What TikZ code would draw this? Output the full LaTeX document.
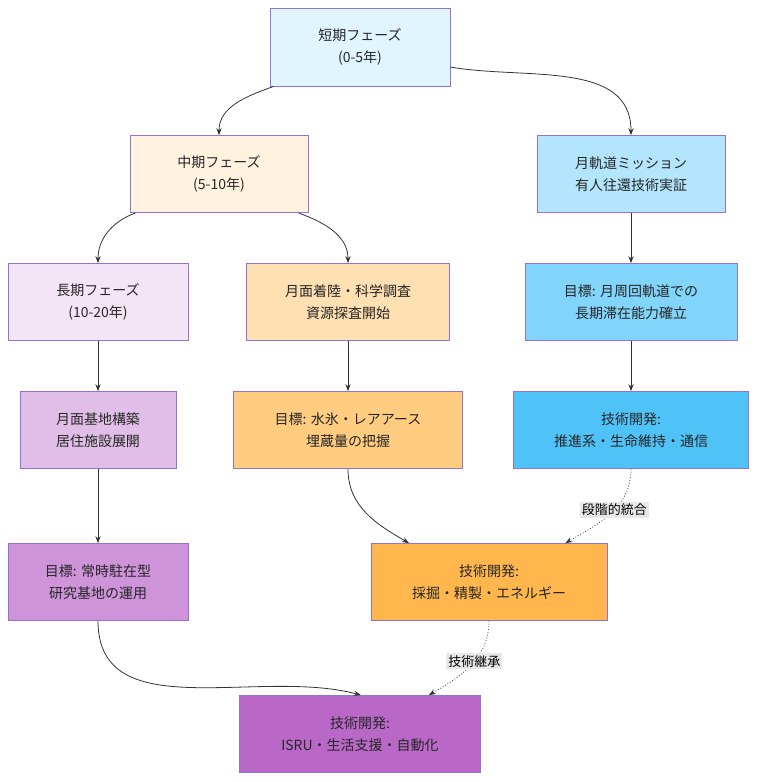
\documentclass[tikz,border=0pt]{standalone}
\usepackage{fontspec}
\setmainfont{Noto Sans CJK JP}
\usetikzlibrary{arrows.meta}
\definecolor{cShort}{HTML}{E1F5FE}
\definecolor{cMid}{HTML}{FFF3E0}
\definecolor{cLong}{HTML}{F3E5F5}
\definecolor{cOrbit}{HTML}{B3E5FC}
\definecolor{cOrbGoal}{HTML}{81D4FA}
\definecolor{cOrbTech}{HTML}{4FC3F7}
\definecolor{cLand}{HTML}{FFE0B2}
\definecolor{cWater}{HTML}{FFCC80}
\definecolor{cMine}{HTML}{FFB74D}
\definecolor{cBase}{HTML}{E1BEE7}
\definecolor{cBaseGoal}{HTML}{CE93D8}
\definecolor{cFinal}{HTML}{BA68C8}
\definecolor{cBorder}{HTML}{9370DB}
\definecolor{cEdge}{HTML}{333333}
\definecolor{cLabel}{HTML}{E8E8E8}
\tikzset{
  box/.style={draw=cBorder,line width=0.8pt,align=center,inner sep=0pt,
    font=\fontsize{14}{22}\selectfont,text=black!85},
  link/.style={draw=cEdge,line width=0.8pt,-{Stealth[length=7pt]}},
  dotlink/.style={link,dotted},
  tag/.style={fill=cLabel,font=\fontsize{13}{16}\selectfont,inner sep=2pt}
}
\begin{document}
\begin{tikzpicture}[x=1pt,y=-1pt]
  \useasboundingbox (0,0) rectangle (757,782);

  % phases
  \node[box,fill=cShort,minimum width=180pt,minimum height=78pt] (short) at (360,47) {短期フェーズ\\(0-5年)};
  \node[box,fill=cMid,minimum width=178pt,minimum height=77pt] (mid) at (219,174) {中期フェーズ\\(5-10年)};
  \node[box,fill=cLong,minimum width=180pt,minimum height=77pt] (long) at (98,302) {長期フェーズ\\(10-20年)};

  % short term
  \node[box,fill=cOrbit,minimum width=188pt,minimum height=77pt] (orbit) at (631,174) {月軌道ミッション\\有人往還技術実証};
  \node[box,fill=cOrbGoal,minimum width=212pt,minimum height=77pt] (orbgoal) at (631,302) {目標: 月周回軌道での\\長期滞在能力確立};
  \node[box,fill=cOrbTech,minimum width=235pt,minimum height=77pt] (orbtech) at (631,430) {技術開発:\\推進系・生命維持・通信};

  % mid term
  \node[box,fill=cLand,minimum width=203pt,minimum height=77pt] (land) at (348,302) {月面着陸・科学調査\\資源探査開始};
  \node[box,fill=cWater,minimum width=229pt,minimum height=77pt] (water) at (348,430) {目標: 水氷・レアアース\\埋蔵量の把握};
  \node[box,fill=cMine,minimum width=236pt,minimum height=77pt] (mine) at (489,582) {技術開発:\\採掘・精製・エネルギー};

  % long term
  \node[box,fill=cBase,minimum width=156pt,minimum height=77pt] (base) at (98,430) {月面基地構築\\居住施設展開};
  \node[box,fill=cBaseGoal,minimum width=180pt,minimum height=77pt] (basegoal) at (98,582) {目標: 常時駐在型\\研究基地の運用};
  \node[box,fill=cFinal,minimum width=241pt,minimum height=77pt] (final) at (360,734) {技術開発:\\ISRU・生活支援・自動化};

  % links
  \draw[link] (short.south west) ++(4,0) to[out=-160,in=90] (mid.north);
  \draw[link] (short.east) ++(0,20) to[out=-10,in=90] (orbit.north);
  \draw[link] (mid.south west) ++(6,0) to[out=-160,in=90] (long.north);
  \draw[link] (mid.south east) ++(-10,0) to[out=-20,in=90] (land.north);
  \draw[link] (orbit) -- (orbgoal);
  \draw[link] (orbgoal) -- (orbtech);
  \draw[link] (land) -- (water);
  \draw[link] (long) -- (base);
  \draw[link] (base) -- (basegoal);
  \draw[link] (water.south) to[out=-90,in=150] ([xshift=-80pt]mine.north);
  \draw[link] (basegoal.south) to[out=-90,in=165] ([xshift=-120pt]final.north east);
  \draw[dotlink] (orbtech.south) to[out=-90,in=30] node[tag,pos=0.45] (tagA) {段階的統合} ([xshift=-42pt]mine.north east);
  \draw[dotlink] (mine.south) to[out=-90,in=30] node[tag,pos=0.45] (tagB) {技術継承} ([xshift=-52pt]final.north east);
\end{tikzpicture}
\end{document}
